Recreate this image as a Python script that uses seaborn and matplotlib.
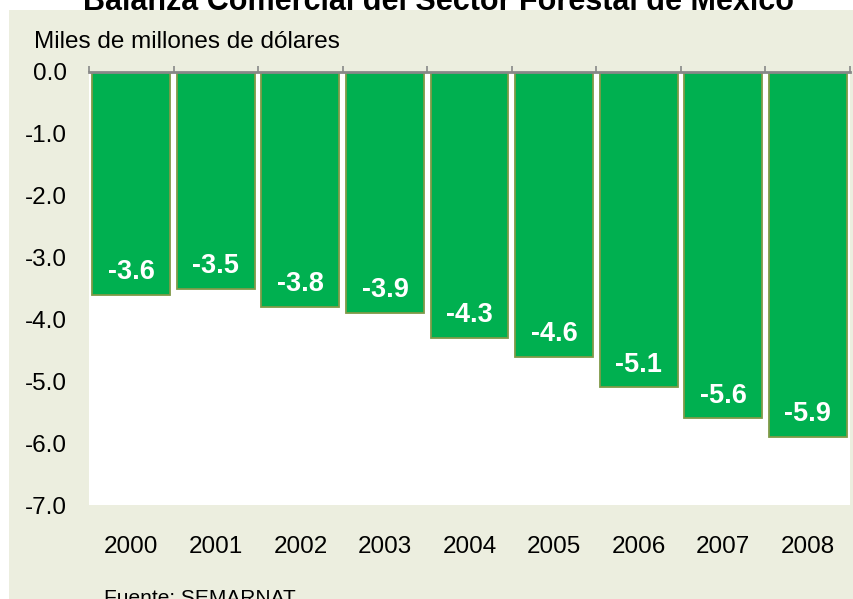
import matplotlib
matplotlib.use("Agg")
import matplotlib.pyplot as plt
import matplotlib.patches as mpatches
from matplotlib.ticker import FixedLocator
from matplotlib.transforms import ScaledTranslation
import numpy as np
import pandas as pd
import seaborn as sns

# data
years = ['2000', '2001', '2002', '2003', '2004', '2005', '2006', '2007', '2008']
balance = [-3.6, -3.5, -3.8, -3.9, -4.3, -4.6, -5.1, -5.6, -5.9]
yticks = [0.0, -1.0, -2.0, -3.0, -4.0, -5.0, -6.0, -7.0]

df = pd.DataFrame({'year': years, 'balance': balance})

sns.set_theme(style='white')
plt.rcParams['font.family'] = ['Liberation Sans', 'DejaVu Sans']
plt.rcParams['text.color'] = 'black'

fig = plt.figure(figsize=(8.54, 5.99), dpi=100)
fig.patch.set_facecolor('white')
# beige panel behind the chart
fig.patches.append(mpatches.Rectangle((9 / 854, 0), 1, 1 - 10 / 599,
                                      transform=fig.transFigure, facecolor='#ECEEDF',
                                      edgecolor='none', zorder=-10))

ax = fig.add_axes([89 / 854, 1 - 505 / 599, 761 / 854, (505 - 72) / 599])
ax.set_facecolor('white')

sns.barplot(data=df, x='year', y='balance', color='#00B050', saturation=1,
            edgecolor='#7F9A48', linewidth=1.3, width=0.92, ax=ax)

for i, v in enumerate(balance):
    ax.text(i, v + 0.37, f'{v:.1f}', ha='center', va='center', color='white',
            fontsize=19.5, fontweight='bold')

ax.set_xlim(-0.5, len(years) - 0.5)
ax.set_ylim(-7, 0)
ax.set_yticks(yticks)
ax.set_yticklabels([f'{t:.1f}' for t in yticks], fontsize=17.5, color='black')
for lbl in ax.get_yticklabels():
    lbl.set_transform(lbl.get_transform() + ScaledTranslation(0, -0.035, fig.dpi_scale_trans))
ax.set_xlabel('')
ax.set_ylabel('')
ax.tick_params(axis='y', length=0, pad=16)
ax.tick_params(axis='x', which='major', length=0, pad=22, labelsize=17.5, labelcolor='black')
ax.xaxis.set_minor_locator(FixedLocator(np.arange(-0.5, len(years), 1.0)))
ax.tick_params(axis='x', which='minor', bottom=False, top=True, direction='out',
               length=4, width=1.2, color='#888888')

for s in ['left', 'right', 'bottom']:
    ax.spines[s].set_visible(False)
ax.spines['top'].set_color('#888888')
ax.spines['top'].set_linewidth(2)

fig.text(0.513, 1 - 10 / 599, 'Balanza Comercial del Sector Forestal de México',
         ha='center', va='baseline', fontsize=22, fontweight='bold')
fig.text(34 / 854, 1 - 42 / 599, 'Miles de millones de dólares', ha='left', va='center',
         fontsize=17.5)
fig.text(104 / 854, 1 - 604 / 599, 'Fuente: SEMARNAT', ha='left', va='baseline',
         fontsize=15)

fig.savefig('out.png', dpi=100)
